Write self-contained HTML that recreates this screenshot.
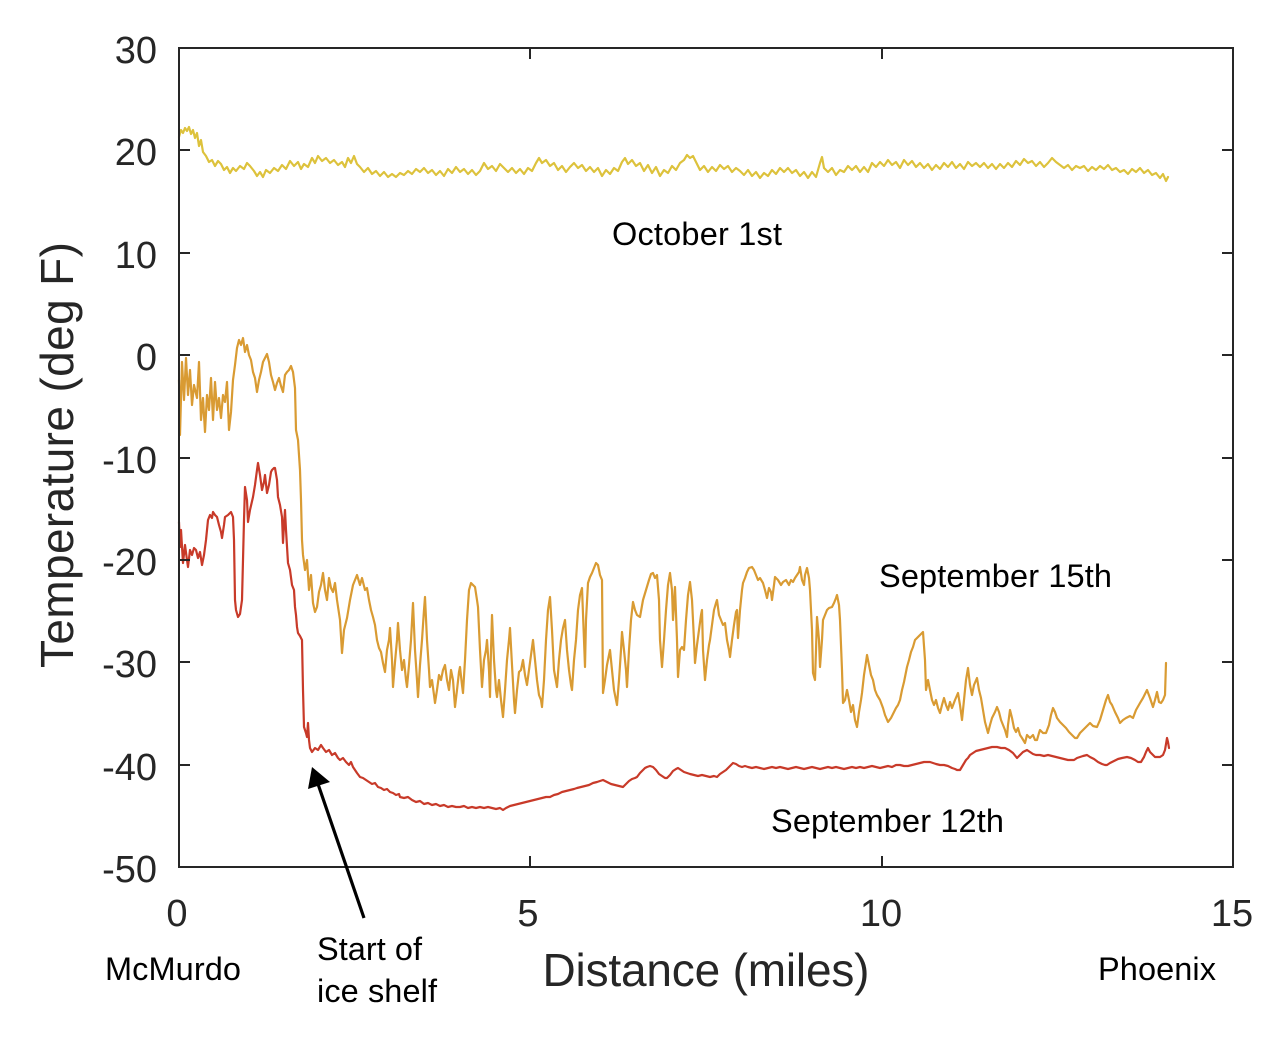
<!DOCTYPE html>
<html>
<head>
<meta charset="utf-8">
<style>
html,body{margin:0;padding:0;background:#fff;}
svg{display:block;}
text{font-family:"Liberation Sans",Arial,sans-serif;}
</style>
</head>
<body>
<svg width="1285" height="1037" viewBox="0 0 1285 1037" xmlns="http://www.w3.org/2000/svg">
<rect x="0" y="0" width="1285" height="1037" fill="#fff"/>

<!-- data -->
<g fill="none" stroke-width="2.2" stroke-linejoin="round" stroke-linecap="round">
<polyline stroke="#DDC23C" points="179,137 181,130 183,133 185,128 187,131 189,127 191,134 193,130 195,138 197,133 199,146 201,140 203,152 206,156 209,162 212,160 215,166 218,161 221,164 224,170 227,167 230,173 233,168 236,171 240,166 244,169 247,163 250,166 254,171 257,176 260,172 263,177 266,170 270,173 274,168 278,171 282,165 286,169 290,161 294,166 298,162 301,169 304,164 308,167 312,158 315,163 318,156 322,161 326,158 330,163 334,160 338,165 342,162 345,167 348,158 351,163 354,156 357,164 360,167 364,172 368,168 372,174 376,171 380,176 384,172 388,177 392,174 396,177 400,173 404,175 408,171 412,174 416,169 420,172 424,168 428,173 432,170 436,175 440,171 444,176 448,169 452,173 456,167 460,172 464,169 468,174 472,170 476,175 480,171 484,163 488,169 492,166 496,171 500,164 504,168 508,172 512,168 516,173 520,169 524,174 528,168 532,171 536,163 539,158 542,163 546,160 550,166 554,163 558,170 562,166 566,172 570,167 574,163 578,168 582,165 586,171 590,167 594,172 598,168 602,176 606,170 610,174 614,168 618,171 622,162 625,158 628,164 632,160 636,166 640,163 644,171 648,165 652,173 656,167 660,176 664,170 668,173 672,166 676,170 680,163 684,160 687,155 690,158 693,156 696,162 700,170 704,166 708,172 712,167 716,171 720,165 724,169 728,166 732,172 736,168 740,171 744,175 748,170 752,176 756,172 760,178 764,173 768,176 772,170 776,174 780,168 784,172 788,168 792,173 796,170 800,176 804,172 808,178 812,172 816,177 820,163 822,157 824,168 828,172 832,168 836,175 840,170 844,172 848,166 852,170 856,166 860,172 864,167 868,172 872,163 876,167 880,162 884,166 888,160 892,165 896,162 900,168 904,160 908,165 912,161 916,167 920,163 924,168 928,164 932,170 936,165 940,169 944,163 948,167 952,162 956,168 960,164 964,169 968,162 972,166 976,163 980,167 984,163 988,168 992,164 996,169 1000,164 1004,168 1008,163 1012,167 1016,161 1020,165 1024,159 1028,163 1032,161 1036,166 1040,162 1044,167 1048,163 1052,158 1056,162 1060,165 1064,168 1068,165 1072,170 1076,166 1080,168 1084,166 1088,171 1092,167 1096,170 1100,166 1104,169 1108,165 1112,170 1116,168 1120,172 1124,170 1128,174 1132,169 1136,172 1140,168 1144,173 1148,170 1152,175 1156,173 1160,178 1163,174 1166,181 1168,177"/>

<polyline stroke="#D99B33" points="179,380 180,435 182,362 184,400 186,358 188,395 190,370 192,405 194,385 197,398 199,362 201,420 203,398 205,432 207,395 209,410 211,378 213,420 215,382 217,410 219,398 221,418 223,395 225,402 227,382 229,430 231,412 233,380 235,365 237,348 239,340 241,345 243,338 245,352 247,345 249,355 251,360 253,372 255,378 257,392 259,380 261,372 263,362 265,358 267,354 269,362 271,375 273,382 275,390 277,383 279,378 281,386 283,392 285,375 287,372 289,370 291,366 293,372 295,388 296,430 298,440 300,470 301,500 302,540 303,555 305,570 307,560 309,590 311,575 313,603 315,612 317,607 319,592 321,585 323,573 325,590 327,600 329,578 331,588 333,592 335,583 337,600 340,620 342,653 344,630 347,618 350,600 353,585 355,580 357,575 360,585 362,578 365,590 367,588 369,600 371,610 373,617 375,625 377,640 379,648 381,652 383,663 385,672 387,650 389,640 390,628 392,660 393,687 395,662 397,640 398,623 400,650 402,670 404,660 406,680 407,687 409,665 411,640 413,603 415,650 417,680 418,697 420,665 422,640 424,610 425,597 427,640 429,670 430,687 432,680 434,695 435,703 437,690 439,675 441,680 443,670 445,665 447,680 449,690 451,670 453,680 455,707 457,690 459,672 460,667 462,685 463,693 465,660 467,620 469,590 471,583 473,585 475,587 477,600 478,607 480,650 482,687 484,660 486,650 487,640 489,670 490,697 491,650 492,615 494,660 496,690 497,697 499,680 501,700 503,717 505,690 507,660 509,640 510,628 512,665 514,700 515,713 517,690 519,672 521,670 523,660 525,675 527,685 529,670 531,655 533,640 535,660 537,680 539,695 541,700 542,707 544,680 546,640 548,610 550,597 552,630 554,670 557,687 559,660 561,640 563,628 565,620 567,650 569,670 571,685 572,690 574,660 576,640 578,610 580,595 582,588 584,640 585,667 586,620 588,583 590,577 592,573 594,568 596,563 598,565 600,575 602,580 603,693 605,680 607,665 609,655 610,650 612,670 614,690 616,700 617,705 619,680 621,650 622,632 624,650 626,670 627,687 629,650 631,620 633,602 635,610 637,615 640,617 643,600 646,590 649,580 651,574 653,573 655,578 657,575 659,600 660,640 662,667 664,640 666,610 668,585 670,573 672,590 673,620 675,587 677,640 678,677 680,650 682,647 684,650 686,620 688,595 690,582 692,600 694,640 695,663 697,645 699,630 701,615 702,610 703,650 705,680 707,660 709,645 710,640 712,625 714,610 716,603 717,600 719,615 721,620 723,625 725,623 727,640 729,650 730,657 732,640 734,625 736,612 737,610 738,638 740,610 742,590 743,583 745,578 747,572 749,568 752,567 754,570 756,575 758,580 760,578 763,583 765,590 767,598 769,588 771,592 772,600 774,585 775,577 778,580 781,585 783,582 786,580 789,585 791,580 793,582 795,578 797,575 799,572 800,567 802,580 804,585 805,575 807,568 809,578 810,590 812,630 813,673 815,680 816,650 817,617 819,640 820,667 822,640 823,620 825,615 827,610 829,608 832,607 834,603 836,598 837,595 839,605 840,620 842,670 843,703 845,700 847,690 849,700 851,712 853,705 855,720 857,727 859,712 861,700 862,693 864,675 866,662 867,655 869,665 871,675 873,680 875,690 877,695 880,700 883,708 885,715 888,722 891,718 894,712 896,708 898,705 900,700 902,690 904,682 907,667 909,660 911,652 913,647 915,640 917,638 920,635 923,632 925,660 926,690 928,680 930,690 932,700 934,705 936,700 938,708 940,713 942,705 944,698 946,705 948,710 950,702 952,708 955,700 958,693 960,705 962,720 964,700 966,680 968,668 970,685 972,695 974,685 977,678 979,690 981,698 983,710 985,722 988,733 990,725 992,718 995,712 997,707 999,712 1001,720 1003,725 1005,730 1007,737 1008,725 1010,710 1012,718 1014,728 1016,732 1018,728 1020,735 1022,738 1025,743 1027,735 1030,738 1033,735 1035,740 1037,740 1039,733 1040,730 1043,733 1046,733 1049,725 1051,715 1053,708 1055,712 1057,718 1060,722 1063,725 1066,728 1069,732 1072,735 1075,738 1077,738 1080,733 1083,730 1086,727 1090,723 1093,726 1097,727 1100,720 1103,710 1106,700 1108,695 1110,702 1112,705 1115,712 1118,718 1120,723 1123,720 1126,718 1130,716 1133,718 1136,710 1140,703 1143,698 1147,690 1150,698 1153,707 1155,700 1157,692 1159,702 1161,703 1163,700 1165,695 1166,663"/>

<polyline stroke="#C83A29" points="179,522 180,547 181,530 183,563 185,545 187,560 188,567 190,550 192,555 194,548 196,550 198,558 200,552 202,565 204,555 206,540 208,520 210,515 212,518 213,512 215,515 217,517 219,525 221,532 222,538 224,525 225,517 228,515 231,512 233,517 234,540 235,600 236,610 238,617 240,614 242,600 243,560 244,520 245,487 247,500 248,522 250,510 253,497 255,485 257,470 258,463 260,475 262,490 264,482 265,475 267,493 269,485 271,472 272,470 274,468 275,468 277,480 278,497 280,505 282,517 283,543 284,525 285,510 286,530 288,563 290,570 292,585 294,590 295,607 296,615 297,627 298,633 300,636 302,640 303,690 304,727 306,733 307,737 308,723 309,740 310,748 312,752 315,748 318,750 321,745 323,748 326,752 329,750 332,755 335,753 338,758 340,760 343,758 346,762 349,765 351,762 353,767 355,770 357,773 360,777 363,778 366,780 369,782 372,784 375,783 378,787 381,788 384,790 387,789 390,792 393,793 396,795 399,794 400,797 404,798 408,797 412,800 416,802 420,801 424,804 428,803 432,805 436,804 440,806 444,805 448,807 452,806 456,807 460,807 464,806 468,808 472,807 476,808 480,807 484,808 488,807 492,808 496,809 500,808 503,810 506,808 510,806 514,805 518,804 522,803 526,802 530,801 534,800 538,799 542,798 546,797 550,797 554,795 558,794 562,792 566,791 570,790 574,789 577,788 581,787 585,786 589,785 593,783 597,782 600,781 603,780 607,782 611,784 615,785 619,786 623,787 626,784 629,781 632,779 635,778 637,777 640,773 643,770 645,768 647,767 650,766 653,767 656,770 659,774 662,776 665,778 667,778 670,775 673,771 676,769 678,768 681,770 684,772 687,773 690,774 694,775 698,776 702,775 706,776 710,777 714,776 717,777 720,774 723,772 726,770 729,767 731,765 733,763 736,764 739,766 742,767 745,766 748,767 752,768 756,767 760,768 764,769 768,768 772,767 776,768 780,767 784,768 788,769 792,768 796,767 800,768 804,769 808,768 812,767 816,768 820,769 824,768 828,767 832,768 836,767 840,768 844,769 848,768 852,767 856,768 860,767 864,768 868,767 872,766 876,767 880,768 884,767 888,766 892,767 896,765 900,765 904,766 908,766 912,765 916,764 920,763 924,762 928,762 930,762 933,763 936,764 940,765 944,765 948,766 952,768 955,769 957,770 960,770 963,765 966,760 968,758 970,755 973,753 976,751 980,750 984,749 988,748 992,747 997,747 1001,748 1005,748 1009,750 1013,753 1017,758 1020,755 1023,752 1027,750 1030,752 1033,754 1036,755 1040,755 1044,756 1048,755 1052,756 1056,757 1060,758 1064,759 1068,760 1071,760 1074,760 1077,758 1080,757 1083,756 1087,755 1090,757 1094,759 1098,762 1102,764 1105,765 1107,765 1110,763 1114,761 1118,759 1122,758 1127,757 1131,758 1135,760 1138,762 1141,762 1144,757 1146,752 1148,748 1150,752 1153,755 1155,757 1157,757 1160,757 1163,755 1165,750 1167,738 1168,742 1169,748"/>
</g>

<!-- axes box -->
<rect x="179" y="48" width="1054" height="819" fill="none" stroke="#262626" stroke-width="2"/>
<g stroke="#262626" stroke-width="2">
  <line x1="179" y1="48" x2="190" y2="48"/>
  <line x1="179" y1="150" x2="190" y2="150"/>
  <line x1="179" y1="253" x2="190" y2="253"/>
  <line x1="179" y1="355" x2="190" y2="355"/>
  <line x1="179" y1="458" x2="190" y2="458"/>
  <line x1="179" y1="560" x2="190" y2="560"/>
  <line x1="179" y1="662" x2="190" y2="662"/>
  <line x1="179" y1="765" x2="190" y2="765"/>
  <line x1="1222" y1="150" x2="1233" y2="150"/>
  <line x1="1222" y1="253" x2="1233" y2="253"/>
  <line x1="1222" y1="355" x2="1233" y2="355"/>
  <line x1="1222" y1="458" x2="1233" y2="458"/>
  <line x1="1222" y1="560" x2="1233" y2="560"/>
  <line x1="1222" y1="662" x2="1233" y2="662"/>
  <line x1="1222" y1="765" x2="1233" y2="765"/>
  <line x1="530" y1="867" x2="530" y2="856"/>
  <line x1="882" y1="867" x2="882" y2="856"/>
  <line x1="530" y1="48" x2="530" y2="59"/>
  <line x1="882" y1="48" x2="882" y2="59"/>
</g>

<!-- y tick labels -->
<g font-size="38" fill="#262626" text-anchor="end">
  <text x="157" y="63">30</text>
  <text x="157" y="165">20</text>
  <text x="157" y="268">10</text>
  <text x="157" y="370">0</text>
  <text x="157" y="473">-10</text>
  <text x="157" y="575">-20</text>
  <text x="157" y="677">-30</text>
  <text x="157" y="780">-40</text>
  <text x="157" y="882">-50</text>
</g>
<!-- x tick labels -->
<g font-size="38" fill="#262626" text-anchor="middle">
  <text x="177" y="926">0</text>
  <text x="528" y="926">5</text>
  <text x="881" y="926">10</text>
  <text x="1232" y="926">15</text>
</g>

<!-- axis labels -->
<text x="706" y="986" font-size="46" fill="#262626" text-anchor="middle" textLength="327">Distance (miles)</text>
<text transform="translate(73,455) rotate(-90)" font-size="46" fill="#262626" text-anchor="middle" textLength="426">Temperature (deg F)</text>

<!-- annotations -->
<g font-size="32.5" fill="#000">
  <text x="612" y="245" textLength="170">October 1st</text>
  <text x="879" y="587" textLength="233">September 15th</text>
  <text x="771" y="832" textLength="233">September 12th</text>
  <text x="105" y="980" textLength="136">McMurdo</text>
  <text x="1098" y="980" textLength="118">Phoenix</text>
  <text x="317" y="960" textLength="105">Start of</text>
  <text x="317" y="1002" textLength="120">ice shelf</text>
</g>

<!-- arrow -->
<line x1="364" y1="918" x2="318" y2="784" stroke="#000" stroke-width="3.2"/>
<polygon points="312,767 308,789 330,782" fill="#000"/>
</svg>
</body>
</html>
